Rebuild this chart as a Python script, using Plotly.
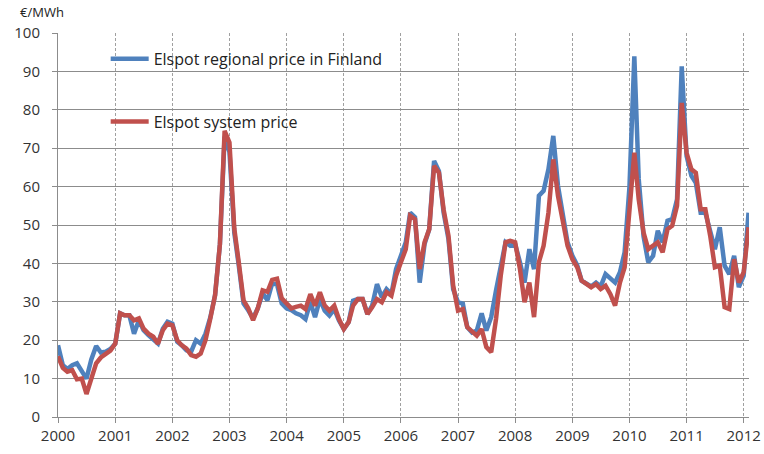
import pandas as pd
import plotly.graph_objects as go

months = pd.date_range("2000-01-01", periods=146, freq="MS")

finland = [
    # 2000
    18.7, 13.5, 12.5, 13.5, 14.0, 12.0, 10.0, 15.0, 18.5, 16.8, 17.0, 17.7,
    # 2001
    19.1, 27.0, 26.5, 26.5, 21.7, 25.2, 22.6, 21.3, 20.0, 19.1, 23.0, 24.8,
    # 2002
    24.3, 19.6, 18.7, 17.4, 17.0, 20.0, 19.1, 21.7, 26.0, 31.7, 45.0, 73.0,
    # 2003
    69.0, 48.0, 39.6, 29.6, 27.8, 25.7, 28.3, 32.2, 30.4, 34.8, 34.5, 29.6,
    # 2004
    28.3, 27.8, 27.0, 26.5, 25.5, 29.9, 26.0, 30.7, 27.7, 26.4, 28.1, 25.1,
    # 2005
    22.9, 24.7, 30.3, 30.7, 30.7, 26.8, 29.0, 34.6, 31.2, 33.3, 32.0, 38.5,
    # 2006
    42.0, 45.5, 53.2, 52.0, 35.0, 45.0, 48.9, 66.7, 64.0, 53.2, 46.3, 33.3,
    # 2007
    29.9, 29.5, 23.4, 22.0, 22.5, 27.0, 22.5, 26.0, 33.0, 39.0, 45.5, 44.6,
    # 2008
    45.0, 40.3, 35.0, 43.7, 38.5, 57.6, 58.9, 64.5, 73.2, 60.2, 53.2, 45.5,
    # 2009
    42.0, 39.5, 35.5, 34.6, 34.0, 35.0, 34.0, 37.2, 35.9, 35.0, 37.7, 42.9,
    # 2010
    60.0, 93.9, 62.0, 47.0, 40.3, 42.0, 48.5, 45.5, 51.1, 51.5, 56.7, 91.3,
    # 2011
    68.0, 62.8, 61.0, 53.2, 53.2, 48.0, 43.7, 49.4, 39.4, 37.2, 42.0, 33.8,
    # 2012
    36.8, 53.2,
]

system = [
    # 2000
    15.8, 12.8, 11.8, 12.2, 9.8, 10.0, 6.0, 10.5, 14.0, 15.5, 16.3, 17.3,
    # 2001
    19.1, 27.0, 26.5, 26.5, 25.2, 25.7, 23.0, 21.7, 20.9, 19.1, 22.6, 24.3,
    # 2002
    23.9, 20.0, 18.7, 17.8, 16.1, 15.7, 16.5, 20.0, 25.7, 31.7, 45.0, 74.5,
    # 2003
    71.5, 49.0, 40.4, 30.4, 28.3, 25.2, 28.3, 33.0, 32.6, 35.7, 36.0, 30.9,
    # 2004
    29.6, 28.3, 28.7, 29.0, 28.1, 32.0, 29.0, 32.5, 29.0, 27.7, 29.0, 25.5,
    # 2005
    22.9, 24.7, 29.0, 30.7, 30.7, 26.8, 28.6, 30.7, 29.9, 32.5, 31.6, 36.8,
    # 2006
    40.3, 43.7, 52.4, 51.5, 38.5, 45.5, 48.9, 65.4, 63.6, 54.0, 47.2, 34.2,
    # 2007
    27.7, 28.1, 23.4, 22.1, 21.2, 22.9, 18.2, 16.9, 25.5, 36.8, 45.5, 45.9,
    # 2008
    45.5, 38.5, 29.9, 35.0, 26.0, 40.3, 44.6, 53.2, 67.1, 57.6, 51.5, 44.6,
    # 2009
    41.1, 39.0, 35.5, 34.6, 33.8, 34.6, 33.3, 34.2, 32.0, 29.0, 35.0, 39.0,
    # 2010
    55.0, 68.8, 56.7, 48.0, 43.7, 44.6, 45.5, 42.9, 48.9, 49.8, 55.0, 81.8,
    # 2011
    68.8, 64.5, 63.6, 54.1, 54.1, 47.2, 39.0, 39.4, 28.6, 28.1, 41.1, 35.0,
    # 2012
    37.7, 49.4,
]

years = list(range(2000, 2013))
year_ticks = [f"{y}-01-01" for y in years]
year_labels = [str(y) for y in years]

FONT = "'Open Sans', Lato, sans-serif"
GRID = "#8c8c8c"
VGRID = "#a0a0a0"

fig = go.Figure()
fig.add_trace(go.Scatter(
    x=months, y=finland, mode="lines", name="Elspot regional price in Finland",
    line=dict(color="#4F81BD", width=4.5), legendgroup="a",
))
fig.add_trace(go.Scatter(
    x=months, y=system, mode="lines", name="Elspot system price",
    line=dict(color="#C0504D", width=4.5), legendgroup="b",
))

fig.update_layout(
    width=764, height=454,
    margin=dict(l=58, r=15, t=33, b=37),
    paper_bgcolor="white", plot_bgcolor="white",
    font=dict(family=FONT, size=14, color="#333333"),
    showlegend=True,
    legend=dict(
        x=0.069, y=0.977, xanchor="left", yanchor="top",
        bgcolor="rgba(0,0,0,0)", borderwidth=0, itemwidth=38,
        tracegroupgap=39, font=dict(size=16, color="#222222"),
    ),
    annotations=[dict(
        text="€/MWh", xref="paper", yref="paper", x=-0.058, y=1.0547,
        xanchor="left", yanchor="middle", showarrow=False,
        font=dict(size=13, color="#222222"),
    )],
)

fig.update_xaxes(
    type="date", range=["2000-01-01", "2012-02-04"],
    tickmode="array", tickvals=year_ticks, ticktext=year_labels,
    showgrid=True, gridcolor=VGRID, gridwidth=1, griddash="3px,2px",
    showline=True, linecolor=GRID, linewidth=1,
    ticks="outside", ticklen=5, tickcolor=GRID, automargin=False,
    tickfont=dict(size=15, color="#333333"), zeroline=False,
)
fig.update_yaxes(
    range=[0, 100], dtick=10, tick0=0,
    showgrid=True, gridcolor=GRID, gridwidth=1,
    showline=True, linecolor=GRID, linewidth=1,
    ticks="outside", ticklen=5, tickcolor=GRID, automargin=False,
    ticklabelstandoff=9,
    tickfont=dict(size=15, color="#333333"), zeroline=False,
)

fig.write_html(
    "out.html",
    config={"displayModeBar": False},
    post_script="document.body.style.margin='0';",
)
